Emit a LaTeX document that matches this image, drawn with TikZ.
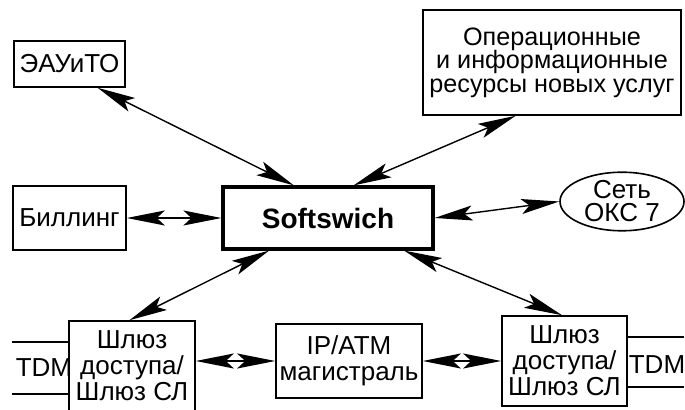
\documentclass[tikz,border=0pt]{standalone}
\usepackage{fontspec}
\setmainfont{Liberation Sans}
\usetikzlibrary{arrows.meta, shapes.geometric, calc}

\begin{document}
\begin{tikzpicture}[x=0.5pt, y=-0.5pt, >={Stealth[length=19pt, width=7.5pt, inset=4pt]},
    box/.style={draw, line width=0.8pt, inner sep=0pt, align=center, font=\fontsize{13}{13}\selectfont},
    link/.style={<->, line width=0.7pt}]
    \useasboundingbox (0,0) rectangle (685,410);
    % Узлы
    \node[box, line width=1.6pt, minimum width=105pt, minimum height=31pt, font=\fontsize{14}{16}\selectfont\bfseries] (soft) at (328,218) {Softswich};
    \node[box, minimum width=55.5pt, minimum height=23pt] (eauito) at (69.5,64) {ЭАУиТО};
    \node[box, minimum width=129pt, minimum height=52.5pt, font=\fontsize{12.6}{11.8}\selectfont] (ops) at (552,62.5) {Операционные\\и информационные\\ресурсы новых услуг};
    \node[box, minimum width=56.5pt, minimum height=32pt] (billing) at (69.5,218) {Биллинг};
    \node[box, ellipse, minimum width=62pt, minimum height=29pt, font=\fontsize{13}{11.5}\selectfont] (oks) at (622,201.5) {Сеть\\ОКС 7};
    \node[box, minimum width=63pt, minimum height=45pt] (gwL) at (132,366) {Шлюз\\доступа/\\Шлюз СЛ};
    \node[box, minimum width=73pt, minimum height=37pt] (ip) at (349,361) {IP/ATM\\магистраль};
    \node[box, minimum width=62.5pt, minimum height=45pt] (gwR) at (564.5,361) {Шлюз\\доступа/\\Шлюз СЛ};
    % Линии TDM
    \node[font=\fontsize{13}{13}\selectfont] (tdmL) at (44,368) {TDM};
    \node[font=\fontsize{13}{13}\selectfont] (tdmR) at (657,365) {TDM};
    \coordinate (l1) at (12,342);
    \coordinate (l2) at (12,394);
    \coordinate (r1) at (684,337);
    \coordinate (r2) at (684,387);
    \draw[line width=0.8pt] (l1) -- (l1 -| gwL.west);
    \draw[line width=0.8pt] (l2) -- (l2 -| gwL.west);
    \draw[line width=0.8pt] (r1) -- (r1 -| gwR.east);
    \draw[line width=0.8pt] (r2) -- (r2 -| gwR.east);
    % Связи с Softswich
    \draw[link] ($(soft.north west)!0.34!(soft.north east)$) -- ($(eauito.south west)!0.75!(eauito.south east)$);
    \draw[link] ($(soft.north west)!0.62!(soft.north east)$) -- ($(ops.south west)!0.36!(ops.south east)$);
    \draw[link] (soft.west) -- (billing.east);
    \draw[link] (soft.east) -- (oks.west);
    \draw[link] ($(soft.south west)!0.224!(soft.south east)$) -- ($(gwL.north west)!0.48!(gwL.north east)$);
    \draw[link] ($(soft.south west)!0.857!(soft.south east)$) -- ($(gwR.north west)!0.48!(gwR.north east)$);
    % Магистраль
    \draw[link] (ip.west -| gwL.east) -- (ip.west);
    \draw[link] (ip.east) -- (ip.east -| gwR.west);
\end{tikzpicture}
\end{document}
